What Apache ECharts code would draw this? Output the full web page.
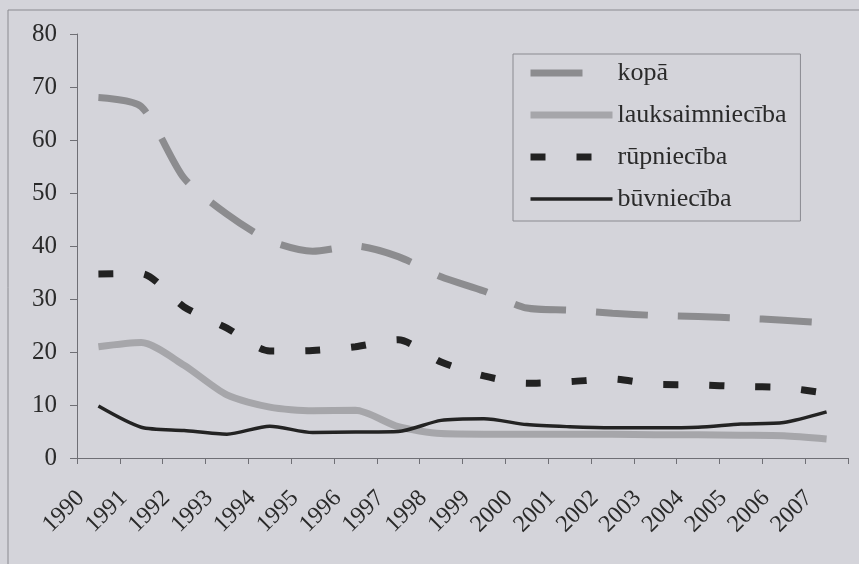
<!DOCTYPE html>
<html>
<head>
<meta charset="utf-8">
<script src="https://cdn.jsdelivr.net/npm/echarts@6/dist/echarts.min.js"></script>
<style>
  html, body { margin: 0; padding: 0; background: #d4d4da; }
  #chart { width: 859px; height: 564px; }
</style>
</head>
<body>
<div id="chart"></div>
<script>
// gadi
const years = ['1990', '1991', '1992', '1993', '1994', '1995', '1996', '1997', '1998',
  '1999', '2000', '2001', '2002', '2003', '2004', '2005', '2006', '2007']

const kopa = [68, 66.3, 52.8, 46, 41, 39, 40, 38, 34.2, 31.5, 28.3, 27.9, 27.3, 26.9, 26.7, 26.4, 26, 25.5]
const lauksaimnieciba = [21, 21.8, 17.5, 11.9, 9.6, 8.9, 9, 5.9, 4.6, 4.5, 4.5, 4.5, 4.5, 4.4, 4.4, 4.3, 4.2, 3.6]
const rupnieciba = [34.7, 34.8, 28.5, 24.5, 20.2, 20.3, 21, 22.3, 18.1, 15.5, 14.1, 14.4, 14.9, 13.9, 13.8, 13.5, 13.3, 12.2]
const buvnieciba = [9.8, 5.8, 5.2, 4.5, 6, 4.8, 4.9, 5, 7.1, 7.4, 6.3, 5.9, 5.7, 5.7, 5.8, 6.4, 6.7, 8.7]

const yTicks = [0, 10, 20, 30, 40, 50, 60, 70, 80]

const font = '"Liberation Serif", "DejaVu Serif", serif'

const chart = echarts.init(document.getElementById('chart'))

function line(name, data, color, width, dash) {
  return {
    name: name,
    type: 'line',
    data: data,
    symbol: 'none',
    smooth: 0.25,
    lineStyle: { color: color, width: width, type: dash || 'solid', cap: 'butt' },
    itemStyle: { color: color }
  }
}

chart.setOption({
  backgroundColor: '#d4d4da',
  animation: false,
  graphic: [{
    type: 'rect',
    shape: { x: 8, y: 10, width: 900, height: 600 },
    style: { fill: 'none', stroke: '#8a8a90', lineWidth: 1 }
  }],
  grid: { left: 77, right: 11, top: 34, bottom: 106 },
  legend: {
    orient: 'vertical',
    left: 513,
    top: 54,
    padding: [6, 14, 9, 14],
    itemWidth: 82,
    itemHeight: 14,
    itemGap: 16,
    borderColor: '#8a8a90',
    borderWidth: 1,
    itemStyle: { opacity: 0 },
    lineStyle: { width: 'inherit' },
    textStyle: { fontFamily: font, fontSize: 26, color: '#2a2a2a' }
  },
  xAxis: {
    type: 'category',
    data: years,
    boundaryGap: true,
    axisLine: { lineStyle: { color: '#6f6f75', width: 1 } },
    axisTick: { show: true, length: 6, lineStyle: { color: '#6f6f75' } },
    axisLabel: {
      rotate: 45,
      margin: 19,
      padding: [0, 25, 0, 0],
      interval: 0,
      fontFamily: font,
      fontSize: 24,
      color: '#2a2a2a'
    },
    splitLine: { show: false }
  },
  yAxis: {
    type: 'value',
    min: yTicks[0],
    max: yTicks[yTicks.length - 1],
    interval: 10,
    axisLine: { show: true, lineStyle: { color: '#6f6f75', width: 1 } },
    axisTick: { show: true, length: 7, lineStyle: { color: '#6f6f75' } },
    axisLabel: { margin: 20, fontFamily: font, fontSize: 25, color: '#2a2a2a' },
    splitLine: { show: false }
  },
  series: [
    line('kopā', kopa, '#8c8c8f', 7, [52, 30]),
    line('lauksaimniecība', lauksaimnieciba, '#a6a6aa', 7),
    line('rūpniecība', rupnieciba, '#222222', 7, [15, 31]),
    line('būvniecība', buvnieciba, '#232323', 3.5)
  ]
})
</script>
</body>
</html>
